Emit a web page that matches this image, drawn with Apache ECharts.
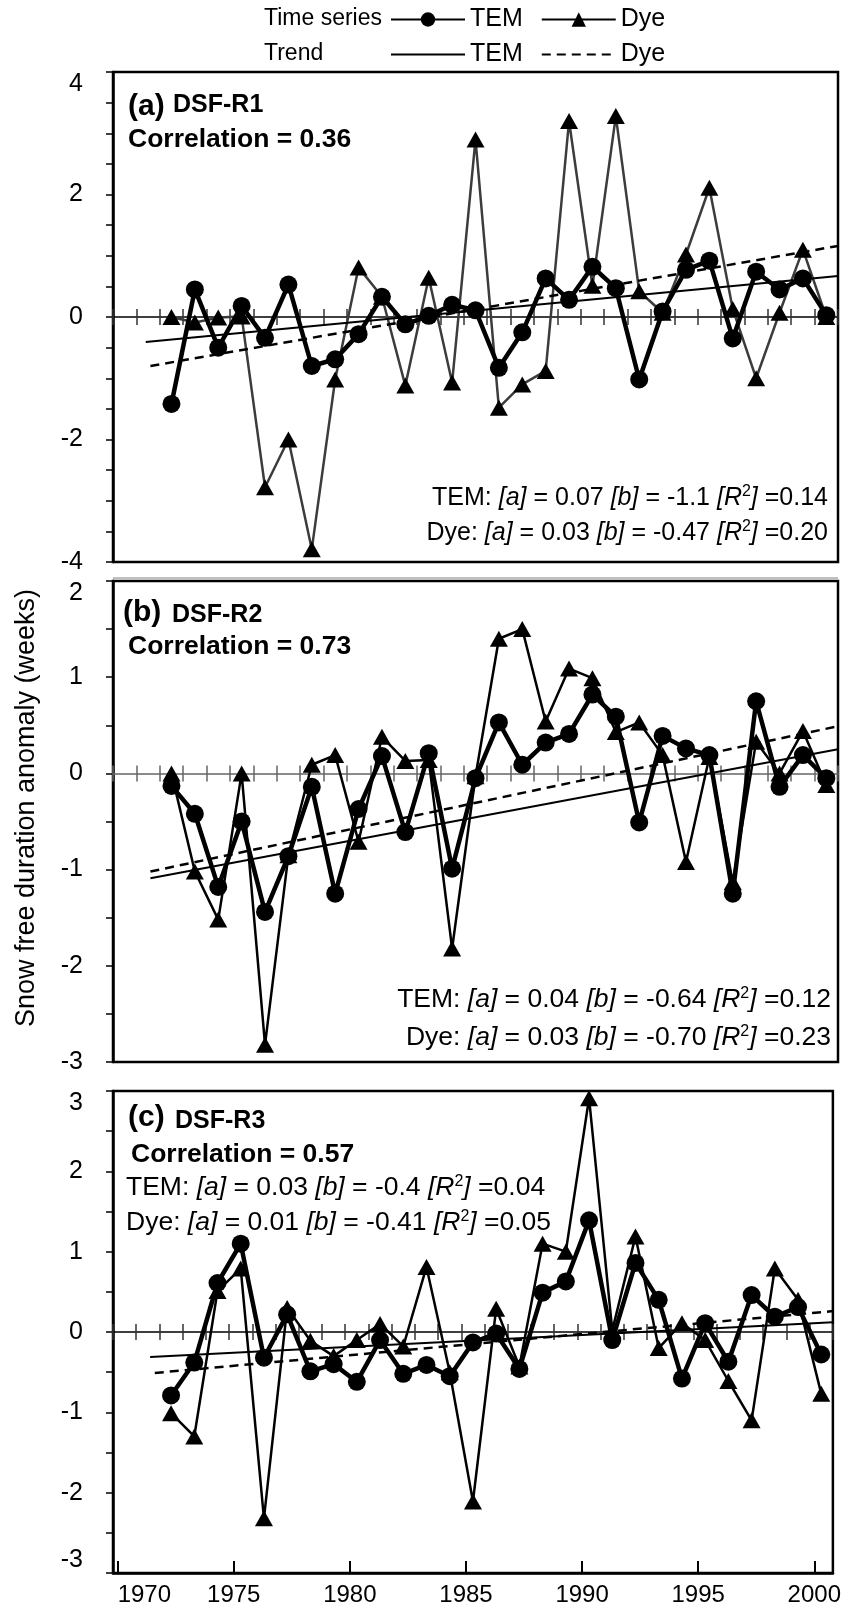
<!DOCTYPE html>
<html>
<head>
<meta charset="utf-8">
<title>Snow free duration anomaly</title>
<script src="https://cdn.jsdelivr.net/npm/echarts@6/dist/echarts.min.js"></script>
<style>
  html, body { margin: 0; padding: 0; background: #fff; }
  #main { width: 844px; height: 1624px; }
</style>
</head>
<body>
<div id="main"></div>
<script>
// years of the anomaly series
var years = [1972, 1973, 1974, 1975, 1976, 1977, 1978, 1979, 1980, 1981,
             1982, 1983, 1984, 1985, 1986, 1987, 1988, 1989, 1990, 1991,
             1992, 1993, 1994, 1995, 1996, 1997, 1998, 1999, 2000];
// labelled years on the bottom axis
var yearTicks = [1970, 1975, 1980, 1985, 1990, 1995, 2000];

// (a) DSF-R1
var temA = [-1.42, 0.45, -0.50, 0.18, -0.34, 0.53, -0.80, -0.69, -0.28, 0.33,
            -0.12, 0.02, 0.20, 0.11, -0.83, -0.25, 0.63, 0.28, 0.82, 0.47,
            -1.02, 0.09, 0.77, 0.92, -0.35, 0.74, 0.45, 0.63, 0.03];
var dyeA = [0.00, -0.09, -0.01, 0.01, -2.78, -2.00, -3.79, -1.02, 0.81, 0.33,
            -1.12, 0.64, -1.07, 2.90, -1.48, -1.10, -0.88, 3.20, 0.51, 3.28,
            0.42, 0.07, 1.02, 2.11, 0.13, -1.00, 0.07, 1.10, 0.00];
var trendYearsTemA = [1970.9, 2000.5];
var trendTemA = [-0.41, 0.67];
var trendYearsDyeA = [1971.1, 2000.5];
var trendDyeA = [-0.80, 1.16];

// (b) DSF-R2
var temB = [-0.13, -0.42, -1.18, -0.50, -1.44, -0.86, -0.14, -1.25, -0.37, 0.18,
            -0.61, 0.21, -0.99, -0.05, 0.53, 0.09, 0.32, 0.41, 0.82, 0.59,
            -0.51, 0.39, 0.26, 0.19, -1.25, 0.75, -0.14, 0.19, -0.05];
var dyeB = [0.00, -1.02, -1.52, 0.00, -2.82, -0.85, 0.09, 0.19, -0.71, 0.38,
            0.13, 0.14, -1.82, -0.03, 1.40, 1.50, 0.54, 1.09, 0.99, 0.43,
            0.53, 0.19, -0.92, 0.17, -1.13, 0.33, 0.00, 0.44, -0.12];
var trendYearsTemB = [1971.1, 2000.5];
var trendTemB = [-1.09, 0.25];
var trendYearsDyeB = [1971.1, 2000.5];
var trendDyeB = [-1.02, 0.49];

// (c) DSF-R3
var temC = [-0.79, -0.38, 0.61, 1.10, -0.32, 0.22, -0.49, -0.40, -0.62, -0.10,
            -0.52, -0.41, -0.55, -0.13, -0.02, -0.46, 0.49, 0.63, 1.39, -0.10,
            0.86, 0.40, -0.58, 0.11, -0.37, 0.46, 0.19, 0.31, -0.28];
var dyeC = [-1.01, -1.30, 0.51, 0.79, -2.32, 0.30, -0.11, -0.30, -0.10, 0.10,
            -0.18, 0.81, -0.50, -2.11, 0.29, -0.43, 1.10, 1.00, 2.91, 0.02,
            1.19, -0.20, 0.11, -0.10, -0.61, -1.10, 0.79, 0.40, -0.77];
var trendYearsTemC = [1971.1, 2000.5];
var trendTemC = [-0.31, 0.12];
var trendYearsDyeC = [1971.3, 2000.5];
var trendDyeC = [-0.51, 0.26];

// regression texts: [a], [b], [R2]
var eqTemA = ['0.07', '-1.1', '0.14'];
var eqDyeA = ['0.03', '-0.47', '0.20'];
var eqTemB = ['0.04', '-0.64', '0.12'];
var eqDyeB = ['0.03', '-0.70', '0.23'];
var eqTemC = ['0.03', '-0.4', '0.04'];
var eqDyeC = ['0.01', '-0.41', '0.05'];

var panelTags = ['(a)', '(b)', '(c)'];
var panelNames = ['DSF-R1', 'DSF-R2', 'DSF-R3'];
var correlations = ['0.36', '0.73', '0.57'];

var FONT = '"Liberation Sans", Arial, sans-serif';

function pairs(xs, ys) {
    return xs.map(function (x, i) { return [x, ys[i]]; });
}

function eqText(label, v) {
    return '{n|' + label + ': }{i|[a]}{n| = ' + v[0] + ' }{i|[b]}{n| = ' + v[1] +
        ' }{i|[R}{s|2}{i|]}{n| =' + v[2] + '}';
}

function eqRich(size) {
    return {
        n: { fontSize: size, fontFamily: FONT, color: '#000', lineHeight: size + 3 },
        i: { fontSize: size, fontFamily: FONT, fontStyle: 'italic', color: '#000', lineHeight: size + 3 },
        s: { fontSize: Math.round(size * 0.62), fontFamily: FONT, color: '#000',
             lineHeight: Math.round(size * 0.62), verticalAlign: 'top' }
    };
}

// layout of the three panels
var panels = [
    { top: 72, height: 490, min: -4, max: 4, interval: 2, minor: 4,
      zero: '#000', dyeLine: '#3c3c3c', tem: temA, dye: dyeA,
      tyT: trendYearsTemA, tT: trendTemA, tyD: trendYearsDyeA, tD: trendDyeA },
    { top: 581, height: 481, min: -3, max: 2, interval: 1, minor: 2,
      zero: '#666', dyeLine: '#000', tem: temB, dye: dyeB,
      tyT: trendYearsTemB, tT: trendTemB, tyD: trendYearsDyeB, tD: trendDyeB },
    { top: 1091, height: 482, min: -3, max: 3, interval: 1, minor: 2,
      zero: '#000', dyeLine: '#000', tem: temC, dye: dyeC,
      tyT: trendYearsTemC, tT: trendTemC, tyD: trendYearsDyeC, tD: trendDyeC }
];

var grids = [], xAxes = [], yAxes = [], series = [];

panels.forEach(function (p, k) {
    grids.push({
        left: 113, top: p.top, width: 725, height: p.height,
        show: true, borderColor: '#000', borderWidth: 2.5
    });
    // zero line with ticks crossing it (one axis up, one down)
    [true, false].forEach(function (inside) {
        xAxes.push({
            gridIndex: k, type: 'value', min: 1969.5, max: 2000.5, interval: 1,
            position: 'bottom',
            axisLine: { show: inside, onZero: true, onZeroAxisIndex: k,
                        lineStyle: { color: p.zero, width: 1.5 } },
            axisTick: { show: true, inside: inside, length: 8,
                        lineStyle: { color: p.zero === '#000' ? '#333' : p.zero, width: 1.5 } },
            axisLabel: { show: false },
            splitLine: { show: false }
        });
    });
    yAxes.push({
        gridIndex: k, type: 'value', min: p.min, max: p.max, interval: p.interval,
        axisLine: { show: true, onZero: false, lineStyle: { color: '#000', width: 2.5 } },
        axisTick: { show: true, inside: false, length: 7, lineStyle: { color: '#000', width: 1.5 } },
        minorTick: { show: true, splitNumber: p.minor, length: 7, lineStyle: { color: '#000', width: 1.5 } },
        splitLine: { show: false },
        axisLabel: {
            fontSize: 25, fontFamily: FONT, color: '#000', margin: 30,
            verticalAlignMaxLabel: 'top',
            verticalAlignMinLabel: k === 2 ? 'bottom' : null
        }
    });

    var xi = 2 * k;
    series.push({
        name: 'Dye', type: 'line', xAxisIndex: xi, yAxisIndex: k,
        data: pairs(years, p.dye), symbol: 'triangle', symbolSize: [18, 16],
        lineStyle: { color: p.dyeLine, width: 2.5 }, itemStyle: { color: '#000' },
        z: 2
    });
    series.push({
        name: 'TEM', type: 'line', xAxisIndex: xi, yAxisIndex: k,
        data: pairs(years, p.tem), symbol: 'circle', symbolSize: 18,
        lineStyle: { color: '#000', width: 4.5 }, itemStyle: { color: '#000' },
        z: 3
    });
    series.push({
        name: 'TEM trend', type: 'line', xAxisIndex: xi, yAxisIndex: k,
        data: pairs(p.tyT, p.tT), symbol: 'none',
        lineStyle: { color: '#000', width: 2 }, itemStyle: { color: '#000' },
        z: 4
    });
    series.push({
        name: 'Dye trend', type: 'line', xAxisIndex: xi, yAxisIndex: k,
        data: pairs(p.tyD, p.tD), symbol: 'none',
        lineStyle: { color: '#000', width: 2.5, type: [9, 6] }, itemStyle: { color: '#000' },
        z: 4
    });
});

// year labels under the last panel
xAxes.push({
    gridIndex: 2, type: 'value', min: 1969.8, max: 2000.8, position: 'bottom',
    axisLine: { show: true, onZero: false, lineStyle: { color: '#000', width: 2.5 } },
    axisTick: { show: true, inside: true, length: 12, customValues: yearTicks,
                lineStyle: { color: '#000', width: 2 } },
    axisLabel: {
        fontSize: 24, fontFamily: FONT, color: '#000', margin: 10,
        alignMinLabel: 'left', customValues: yearTicks,
        formatter: function (v) { return String(v); }
    },
    splitLine: { show: false }
});

// texts inside the panels
var texts = [];
var tagY = [107, 613, 1118];
var nameY = [105, 615, 1121];
var corrY = [140, 647, 1155];
panels.forEach(function (p, k) {
    texts.push({ type: 'text', x: k === 1 ? 123 : 128, y: tagY[k], z: 10,
        style: { text: panelTags[k], font: 'bold 30px ' + FONT, fill: '#000', verticalAlign: 'middle' } });
    texts.push({ type: 'text', x: k === 0 ? 173 : (k === 1 ? 172 : 175), y: nameY[k], z: 10,
        style: { text: panelNames[k], font: 'bold 25px ' + FONT, fill: '#000', verticalAlign: 'middle' } });
    texts.push({ type: 'text', x: k === 2 ? 131 : 128, y: corrY[k], z: 10,
        style: { text: 'Correlation = ' + correlations[k], font: 'bold 26.5px ' + FONT, fill: '#000', verticalAlign: 'middle' } });
});
var eqs = [
    { x: 828, y: 498, align: 'right', size: 25, text: eqText('TEM', eqTemA) },
    { x: 828, y: 533, align: 'right', size: 25, text: eqText('Dye', eqDyeA) },
    { x: 831, y: 1000, align: 'right', size: 26.5, text: eqText('TEM', eqTemB) },
    { x: 831, y: 1038, align: 'right', size: 26.5, text: eqText('Dye', eqDyeB) },
    { x: 126, y: 1188, align: 'left', size: 26.5, text: eqText('TEM', eqTemC) },
    { x: 126, y: 1223, align: 'left', size: 26.5, text: eqText('Dye', eqDyeC) }
];
eqs.forEach(function (e) {
    texts.push({ type: 'text', x: e.x, y: e.y, z: 10,
        style: { text: e.text, rich: eqRich(e.size), align: e.align, verticalAlign: 'middle' } });
});
// legend row titles and axis title
texts.push({ type: 'text', x: 264, y: 19, style: { text: 'Time series', font: '23px ' + FONT, fill: '#000', verticalAlign: 'middle' } });
texts.push({ type: 'text', x: 264, y: 54, style: { text: 'Trend', font: '23px ' + FONT, fill: '#000', verticalAlign: 'middle' } });
texts.push({ type: 'text', x: 27, y: 808, rotation: Math.PI / 2,
    style: { text: 'Snow free duration anomaly (weeks)', font: '27px ' + FONT, fill: '#000',
             align: 'center', verticalAlign: 'middle' } });
// thin grey rule above panel (b)
texts.push({ type: 'line', shape: { x1: 113, y1: 578, x2: 838, y2: 578 },
    style: { stroke: '#aaa', lineWidth: 1.5 } });

var legendText = { fontSize: 25, fontFamily: FONT, color: '#000' };

var option = {
    animation: false,
    backgroundColor: '#fff',
    grid: grids,
    xAxis: xAxes,
    yAxis: yAxes,
    legend: [{
        left: 390, top: 7, padding: 0, itemWidth: 74, itemHeight: 18, itemGap: 18,
        selectedMode: false, textStyle: legendText,
        lineStyle: { width: 2, color: '#000' },
        data: [{ name: 'TEM' }, { name: 'Dye' }]
    }, {
        left: 390, top: 42, padding: 0, itemWidth: 74, itemHeight: 18, itemGap: 18,
        selectedMode: false, textStyle: legendText,
        lineStyle: { width: 2, color: '#000' },
        formatter: function (name) { return name.replace(' trend', ''); },
        data: [{ name: 'TEM trend', itemStyle: { opacity: 0 } },
               { name: 'Dye trend', itemStyle: { opacity: 0 } }]
    }],
    graphic: texts,
    series: series
};

var chart = echarts.init(document.getElementById('main'));
chart.setOption(option);
</script>
</body>
</html>
